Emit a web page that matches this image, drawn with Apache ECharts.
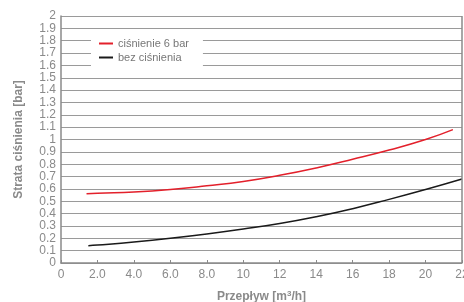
<!DOCTYPE html>
<html>
<head>
<meta charset="utf-8">
<script src="https://cdn.jsdelivr.net/npm/echarts@6/dist/echarts.min.js"></script>
<style>
  html, body { margin: 0; padding: 0; background: #fff; }
  #main { width: 464px; height: 302px; }
</style>
</head>
<body>
<div id="main"></div>
<script>
// dane
var seriesNames = ['ciśnienie 6 bar', 'bez ciśnienia'];
var flow6bar = [1.4, 2, 4, 6, 8, 10, 12, 14, 16, 18, 20, 21.5];
var pressure6bar = [0.56, 0.565, 0.575, 0.595, 0.625, 0.66, 0.71, 0.77, 0.84, 0.915, 1.0, 1.08];
var flowFree = [1.5, 2, 4, 6, 8, 10, 12, 14, 16, 18, 20, 22];
var pressureFree = [0.14, 0.145, 0.17, 0.2, 0.235, 0.275, 0.32, 0.375, 0.44, 0.515, 0.595, 0.68];
var xTickLabels = ['0', '2.0', '4.0', '6.0', '8.0', '10', '12', '14', '16', '18', '20', '22'];

var myChart = echarts.init(document.getElementById('main'));

function pairs(xs, ys) {
  return xs.map(function (x, i) { return [x, ys[i]]; });
}

var grey = '#8a8a8a';
var font = 'Liberation Sans';

var option = {
  animation: false,
  textStyle: { fontFamily: font },
  grid: { left: 61, right: 2, top: 16, bottom: 39, outerBoundsMode: 'none' },
  legend: {
    left: 91, top: 35,
    orient: 'vertical',
    itemGap: 3,
    itemWidth: 14, itemHeight: 2,
    icon: 'rect',
    backgroundColor: '#fff',
    padding: [3, 14, 3, 8],
    textStyle: { color: '#777', fontSize: 11, fontFamily: font },
    data: seriesNames
  },
  xAxis: {
    type: 'value',
    min: 0, max: 22, interval: 2,
    name: 'Przepływ [m{sup|3}/h]',
    nameLocation: 'middle',
    nameGap: 27,
    nameTextStyle: {
      color: grey, fontWeight: 'bold', fontSize: 12,
      rich: {
        sup: { color: grey, fontWeight: 'bold', fontSize: 8, verticalAlign: 'top', padding: [0, 0, 6, 0] }
      }
    },
    axisLine: { lineStyle: { color: grey, width: 1.5 } },
    axisTick: { inside: true, length: 3, lineStyle: { color: grey } },
    axisLabel: {
      color: grey, fontSize: 12, margin: 6,
      formatter: function (v) { return xTickLabels[Math.round(v / 2)]; }
    },
    splitLine: { show: false }
  },
  yAxis: {
    type: 'value',
    min: 0, max: 2, interval: 0.1,
    name: 'Strata ciśnienia [bar]',
    nameLocation: 'middle',
    nameGap: 36,
    nameTextStyle: { color: grey, fontWeight: 'bold', fontSize: 12 },
    axisLine: { show: true, lineStyle: { color: grey, width: 1.5 } },
    axisTick: { show: false },
    axisLabel: {
      color: grey, fontSize: 12, margin: 5,
      formatter: function (v) { return String(Math.round(v * 10) / 10); }
    },
    splitLine: { lineStyle: { color: '#9a9a9a', width: 1 } }
  },
  series: [
    {
      name: seriesNames[0],
      type: 'line',
      smooth: true,
      symbol: 'none',
      itemStyle: { color: '#e3202b' },
      lineStyle: { color: '#e3202b', width: 1.5 },
      data: pairs(flow6bar, pressure6bar),
      markLine: {
        silent: true, symbol: 'none', label: { show: false },
        lineStyle: { color: grey, type: 'solid', width: 1.5 },
        data: [{ xAxis: 22 }]
      }
    },
    {
      name: seriesNames[1],
      type: 'line',
      smooth: true,
      symbol: 'none',
      itemStyle: { color: '#1a1a1a' },
      lineStyle: { color: '#1a1a1a', width: 1.5 },
      data: pairs(flowFree, pressureFree)
    }
  ]
};
myChart.setOption(option);
</script>
</body>
</html>
